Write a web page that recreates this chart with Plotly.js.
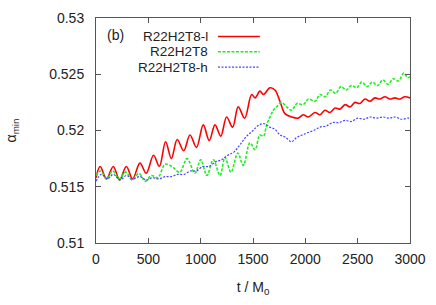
<!DOCTYPE html>
<html>
<head>
<meta charset="utf-8">
<script src="https://cdn.plot.ly/plotly-3.0.1.min.js"></script>
<style>html,body{margin:0;padding:0;background:#fff;}#chart{width:436px;height:305px;}</style>
</head>
<body>
<div id="chart"></div>
<script>
// ---- data ----
var seriesNames = ["R22H2T8-l", "R22H2T8", "R22H2T8-h"];
var panelLabel = "(b)";

var tRed = [0,40,100,165,225,290,350,420,480,550,605,665,720,776,838,898,960,1025,1082,1137,1192,1248,1305,1359,1420,1487,1520,1566,1600,1662,1710,1757,1805,1869,1932,1980,2028,2092,2140,2187,2235,2285,2330,2380,2426,2475,2521,2570,2617,2665,2712,2760,2808,2855,2903,2950,3000];
var red = [0.5158,0.5168,0.5157,0.5168,0.5156,0.5168,0.5157,0.5171,0.5162,0.5178,0.5168,0.5190,0.5175,0.5192,0.5182,0.5196,0.5185,0.5205,0.5191,0.5205,0.5195,0.5212,0.5203,0.5221,0.5211,0.5232,0.5229,0.5235,0.5232,0.5238,0.5236,0.5226,0.5215,0.5212,0.5211,0.5214,0.5212,0.5216,0.5214,0.5218,0.5216,0.5220,0.5219,0.5223,0.5221,0.5225,0.5224,0.5228,0.5226,0.5229,0.5228,0.5230,0.5228,0.5229,0.5228,0.5230,0.5229];

var tGreen = [0,45,100,160,220,285,345,410,470,530,590,660,725,800,870,945,1000,1060,1120,1185,1232,1290,1355,1407,1471,1520,1565,1600,1630,1662,1694,1726,1773,1821,1869,1920,1980,2030,2092,2140,2190,2240,2290,2340,2390,2440,2490,2540,2590,2640,2690,2740,2790,2840,2890,2940,2980,3000];
var green = [0.5160,0.5164,0.5157,0.5164,0.5157,0.5163,0.5156,0.5162,0.5155,0.5160,0.5158,0.5170,0.5168,0.5163,0.5175,0.5162,0.5174,0.5160,0.5174,0.5160,0.5176,0.5163,0.5180,0.5169,0.5189,0.5183,0.5196,0.5195,0.5205,0.5212,0.5218,0.5221,0.5225,0.5221,0.5218,0.5224,0.5223,0.5228,0.5226,0.5232,0.5230,0.5236,0.5233,0.5239,0.5236,0.5240,0.5238,0.5243,0.5239,0.5243,0.5240,0.5245,0.5241,0.5246,0.5244,0.5251,0.5247,0.5248];

var tBlue = [0,50,110,165,230,290,350,420,480,540,600,660,720,780,840,900,960,1020,1080,1140,1200,1260,1320,1380,1440,1500,1560,1610,1660,1710,1760,1810,1869,1920,1970,2020,2080,2140,2200,2260,2320,2380,2440,2500,2560,2620,2680,2740,2800,2860,2920,2980,3000];
var blue = [0.5155,0.5161,0.5157,0.5161,0.5156,0.5160,0.5157,0.5159,0.5156,0.5158,0.5157,0.5159,0.5159,0.5161,0.5161,0.5164,0.5164,0.5168,0.5168,0.5172,0.5174,0.5178,0.5181,0.5188,0.5195,0.5200,0.5205,0.5206,0.5203,0.5201,0.5196,0.5194,0.5190,0.5194,0.5196,0.5198,0.5200,0.5203,0.5204,0.5207,0.5207,0.5209,0.5208,0.5211,0.5210,0.5212,0.5211,0.5212,0.5211,0.5212,0.5210,0.5211,0.5211];

var xTicks = [0,500,1000,1500,2000,2500,3000];
var yTicks = [0.51,0.515,0.52,0.525,0.53];
var yTickText = ["0.51","0.515","0.52","0.525","0.53"];

// ---- styles ----
var colors = ["#ff0000", "#22ee22", "#4444ff"];
var dashes = ["solid", "3px,1.5px", "2px,1.5px"];
var widths = [1.6, 1.6, 1.2];
var font = "Liberation Sans, Arial, sans-serif";

var xs = [tRed, tGreen, tBlue];
var ys = [red, green, blue];
var traces = [];
for (var i = 0; i < 3; i++) {
  traces.push({
    x: xs[i], y: ys[i], type: "scatter", mode: "lines", name: seriesNames[i],
    line: {color: colors[i], width: widths[i], dash: dashes[i], shape: "spline", smoothing: 1},
    showlegend: false, hoverinfo: "skip"
  });
}

// legend drawn gnuplot-style (text right-aligned, sample line after it)
var legY = [0.918, 0.850, 0.782];
var annotations = [{
  text: panelLabel, xref: "paper", yref: "paper", x: 0.030, y: 0.926,
  xanchor: "left", yanchor: "middle", showarrow: false,
  font: {family: font, size: 14, color: "#222"}
}];
var shapes = [];
for (var j = 0; j < 3; j++) {
  annotations.push({
    text: seriesNames[j], xref: "paper", yref: "paper", x: 0.363, y: legY[j],
    xanchor: "right", yanchor: "middle", showarrow: false,
    font: {family: font, size: 13.5, color: "#222"}
  });
  shapes.push({
    type: "line", xref: "paper", yref: "paper", x0: 0.3885, x1: 0.522, y0: legY[j], y1: legY[j],
    line: {color: colors[j], width: widths[j], dash: dashes[j]}
  });
}

var layout = {
  width: 436, height: 305,
  margin: {l: 96, r: 26, t: 18, b: 62},
  paper_bgcolor: "#fff", plot_bgcolor: "#fff",
  font: {family: font, size: 14, color: "#222"},
  xaxis: {
    range: [0, 3000], tickvals: xTicks, ticks: "inside", ticklen: 5, tickcolor: "#555",
    showline: true, linecolor: "#555", linewidth: 1, mirror: "ticks", showgrid: false, zeroline: false,
    ticklabelstandoff: 3,
    title: {text: "t / M<sub>0</sub>", font: {family: font, size: 14, color: "#222"}, standoff: 16}
  },
  yaxis: {
    range: [0.51, 0.53], tickvals: yTicks, ticktext: yTickText, ticks: "inside", ticklen: 5, tickcolor: "#555",
    showline: true, linecolor: "#555", linewidth: 1, mirror: "ticks", showgrid: false, zeroline: false,
    ticklabelstandoff: 8,
    title: {text: "α<sub>min</sub>", font: {family: font, size: 14, color: "#222"}, standoff: 29}
  },
  annotations: annotations,
  shapes: shapes,
  showlegend: false
};

Plotly.newPlot("chart", traces, layout, {staticPlot: true, displayModeBar: false});
</script>
</body>
</html>
